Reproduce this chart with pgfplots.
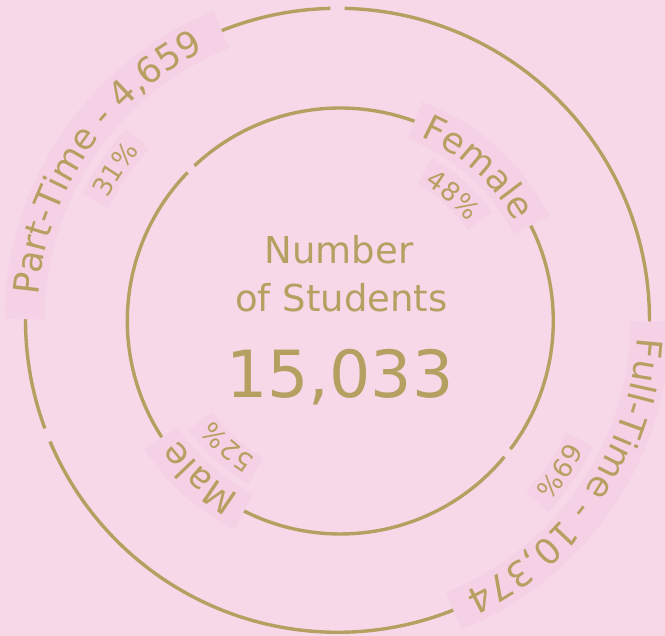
\documentclass[border=0pt]{standalone}
\usepackage{pgfplots}
\pgfplotsset{compat=1.18}
\usepackage{fontspec}
\setmainfont{DejaVu Sans}
\usetikzlibrary{decorations.text}
\definecolor{bgpink}{HTML}{F6D8E9}
\definecolor{blob}{HTML}{F4D1E5}
\definecolor{gold}{HTML}{B5A061}

% data
\def\fulltime{10374}
\def\parttime{4659}
\def\female{48}
\def\male{52}

\newcommand\labfont{\fontsize{35.5}{40}\selectfont}
\newcommand\pctfont{\fontsize{26}{30}\selectfont}

% arc helper: center, radius, start, end, style
\newcommand\ringarc[5]{\draw[#5] ([shift={(#3:#2)}]#1) arc[start angle=#3, end angle=#4, radius=#2];}
% text helper: center, radius, start, end, font, text
\newcommand\arctext[6]{\path[decorate, decoration={text along path, text align=center, text color=gold, text={|#5|#6}}] ([shift={(#3:#2)}]#1) arc[start angle=#3, end angle=#4, radius=#2];}

\begin{document}
\begin{tikzpicture}
\pgfmathsetmacro\ftfrac{\fulltime/(\fulltime+\parttime)}
\pgfmathsetmacro\fefrac{\female/(\female+\male)}
\pgfmathsetmacro\oa{90}
\pgfmathsetmacro\ob{90-360*\ftfrac}
\pgfmathsetmacro\oc{90-360}
\pgfmathsetmacro\ia{134.5}
\pgfmathsetmacro\ib{\ia-360*\fefrac}
\pgfmathsetmacro\ic{\ia-360}
\def\g{1.3}
% arc ends with gaps
\pgfmathsetmacro\oas{\oa-\g}\pgfmathsetmacro\obe{\ob+\g}
\pgfmathsetmacro\obs{\ob-\g}\pgfmathsetmacro\oce{\oc+\g}
\pgfmathsetmacro\ias{\ia-\g}\pgfmathsetmacro\ibe{\ib+\g}
\pgfmathsetmacro\ibs{\ib-\g}\pgfmathsetmacro\ice{\ic+\g}
% midpoints
\pgfmathsetmacro\ftm{(\oa+\ob)/2}
\pgfmathsetmacro\ptm{(\ob+\oc)/2}
\pgfmathsetmacro\fem{(\ia+\ib)/2}
\pgfmathsetmacro\mam{(\ib+\ic)/2}
% blob spans
\pgfmathsetmacro\ftba{\ftm+34}\pgfmathsetmacro\ftbb{\ftm-34}
\pgfmathsetmacro\ptba{\ptm+34}\pgfmathsetmacro\ptbb{\ptm-34}
\pgfmathsetmacro\feba{\fem+21.5}\pgfmathsetmacro\febb{\fem-21.5}
\pgfmathsetmacro\maba{\mam+15}\pgfmathsetmacro\mabb{\mam-15}
\pgfmathsetmacro\ftpa{\ftm+8}\pgfmathsetmacro\ftpb{\ftm-8}
\pgfmathsetmacro\ptpa{\ptm+8}\pgfmathsetmacro\ptpb{\ptm-8}
\pgfmathsetmacro\fepa{\fem+12.5}\pgfmathsetmacro\fepb{\fem-12.5}
\pgfmathsetmacro\mapa{\mam+12.5}\pgfmathsetmacro\mapb{\mam-12.5}
% text paths
\pgfmathsetmacro\ftta{\ftm+80}\pgfmathsetmacro\fttb{\ftm-80}
\pgfmathsetmacro\ptta{\ptm+80}\pgfmathsetmacro\pttb{\ptm-80}
\pgfmathsetmacro\feta{\fem+80}\pgfmathsetmacro\fetb{\fem-80}
\pgfmathsetmacro\mata{\mam+80}\pgfmathsetmacro\matb{\mam-80}
\begin{axis}[name=ax, width=665pt, height=636pt, scale only axis,
  xmin=0, xmax=665, ymin=0, ymax=636, hide axis, clip=false]
\fill[bgpink] (axis cs:0,0) rectangle (axis cs:665,636);
\coordinate (O) at (axis cs:337.5,315.7);
\coordinate (I) at (axis cs:340.3,315);
% rings
\ringarc{O}{312pt}{\oas}{\obe}{gold, line width=3.4pt}
\ringarc{O}{312pt}{\obs}{\oce}{gold, line width=3.4pt}
\ringarc{I}{213pt}{\ias}{\ibe}{gold, line width=3.4pt}
\ringarc{I}{213pt}{\ibs}{\ice}{gold, line width=3.4pt}
% label blobs
\ringarc{O}{313pt}{\ftba}{\ftbb}{blob, line width=40pt}
\ringarc{O}{313pt}{\ptba}{\ptbb}{blob, line width=40pt}
\ringarc{O}{270pt}{\ftpa}{\ftpb}{blob, line width=30pt}
\ringarc{O}{270pt}{\ptpa}{\ptpb}{blob, line width=30pt}
\ringarc{I}{214pt}{\feba}{\febb}{blob, line width=40pt}
\ringarc{I}{214pt}{\maba}{\mabb}{blob, line width=40pt}
\ringarc{I}{172pt}{\fepa}{\fepb}{blob, line width=30pt}
\ringarc{I}{172pt}{\mapa}{\mapb}{blob, line width=30pt}
% labels
\arctext{O}{300pt}{\ftta}{\fttb}{\labfont}{Full-Time - 10,374}
\arctext{O}{300pt}{\ptta}{\pttb}{\labfont}{Part-Time - 4,659}
\arctext{O}{260pt}{\ftta}{\fttb}{\pctfont}{69{\%}}
\arctext{O}{260pt}{\ptta}{\pttb}{\pctfont}{31{\%}}
\arctext{I}{201pt}{\feta}{\fetb}{\labfont}{Female}
\arctext{I}{201pt}{\mata}{\matb}{\labfont}{Male}
\arctext{I}{161pt}{\feta}{\fetb}{\pctfont}{48{\%}}
\arctext{I}{161pt}{\mata}{\matb}{\pctfont}{52{\%}}
% centre
\node[anchor=base, text=gold, font=\fontsize{37}{40}\selectfont] at (axis cs:339,372) {Number};
\node[anchor=base, text=gold, font=\fontsize{37}{40}\selectfont] at (axis cs:341.5,324) {of Students};
\node[anchor=base, text=gold, font=\fontsize{65}{70}\selectfont] at (axis cs:340,238) {15,033};
\end{axis}
\pgfresetboundingbox
\useasboundingbox (ax.south west) rectangle (ax.north east);
\end{tikzpicture}
\end{document}
